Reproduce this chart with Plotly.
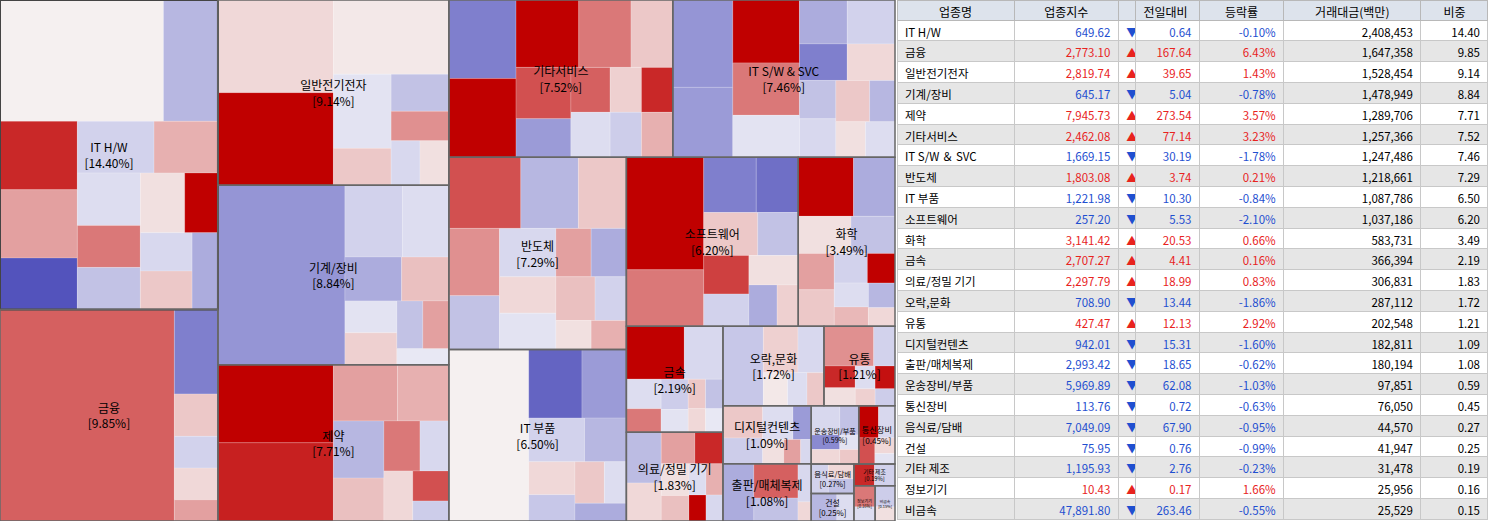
import plotly.graph_objects as go

sector_index = ["649.62","2,773.10","2,819.74","645.17","7,945.73","2,462.08","1,669.15","1,803.08","1,221.98","257.20","3,141.42","2,707.27","2,297.79","708.90","427.47","942.01","2,993.42","5,969.89","113.76","7,049.09","75.95","1,195.93","10.43","47,891.80"]
sector_diff = ["0.64","167.64","39.65","5.04","273.54","77.14","30.19","3.74","10.30","5.53","20.53","4.41","18.99","13.44","12.13","15.31","18.65","62.08","0.72","67.90","0.76","2.76","0.17","263.46"]
sector_rate = [-0.10,6.43,1.43,-0.78,3.57,3.23,-1.78,0.21,-0.84,-2.10,0.66,0.16,0.83,-1.86,2.92,-1.60,-0.62,-1.03,-0.63,-0.95,-0.99,-0.23,1.66,-0.55]
sector_amount = ["2,408,453","1,647,358","1,528,454","1,478,949","1,289,706","1,257,366","1,247,486","1,218,661","1,087,786","1,037,186","583,731","366,394","306,831","287,112","202,548","182,811","180,194","97,851","76,050","44,570","41,947","31,478","25,956","25,529"]
sector_weight = [14.40,9.85,9.14,8.84,7.71,7.52,7.46,7.29,6.50,6.20,3.49,2.19,1.83,1.72,1.21,1.09,1.08,0.59,0.45,0.27,0.25,0.19,0.16,0.15]
table_names = ["IT H/W","금융","일반전기전자","기계/장비","제약","기타서비스","IT S/W ＆ SVC","반도체","IT 부품","소프트웨어","화학","금속","의료/정밀 기기","오락,문화","유통","디지털컨텐츠","출판/매체복제","운송장비/부품","통신장비","음식료/담배","건설","기타 제조","정보기기","비금속"]
treemap_labels = ["IT H/W","금융","일반전기전자","기계/장비","제약","기타서비스","IT S/W & SVC","반도체","IT 부품","소프트웨어","화학","금속","의료/정밀 기기","오락,문화","유통","디지털컨텐츠","출판/매체복제","운송장비/부품","통신장비","음식료/담배","건설","기타 제조","정보기기","비금속"]

child_weights = [
 [30,8,10,8,6,6,5,5,4,4,4,3,3,3,3],
 [80,8,4,3,3,2],
 [25,25,20,10,5,5,4,3,3],
 [55,10,8,6,5,4,4,3,3,2],
 [25,25,10,8,8,6,5,4,4,3,2],
 [15,15,12,10,8,8,6,5,5,4,4,4,4],
 [15,12,12,10,8,6,6,5,5,4,4,4,3,3,3],
 [15,12,10,10,8,8,6,6,5,5,5,4,3,3],
 [45,12,10,8,6,5,4,4,3,3],
 [30,15,10,8,8,6,6,5,5,4,3],
 [20,15,12,10,8,8,6,5,5,4,4,3],
 [30,20,10,8,8,6,5,5,4,4],
 [20,15,12,10,10,8,6,6,5,5],
 [40,20,15,10,8,7],
 [35,15,12,10,8,8,6,6],
 [25,20,20,12,10,8,5],
 [35,30,20,10,5],
 [30,20,15,15,10,10],
 [30,25,20,15,10],
 [40,30,30],
 [60,40],
 [50,50],
 [60,40],
 [60,40],
]
child_changes = [
 [0,2.5,-1.0,1.0,-2.8,-0.5,0.8,-0.3,1.5,-0.8,0.2,3.5,-0.4,0.5,-1.2],
 [1.8,-2.0,0.5,-0.5,0.3,1.0],
 [0.3,3.0,0.1,-0.2,0.5,-0.8,1.2,-0.4,0.2],
 [-1.6,-0.5,-0.3,-1.2,0.6,-0.2,0.4,-0.8,1.0,-0.1],
 [3.0,2.6,1.0,0.8,-1.0,0.6,1.5,-0.4,0.3,2.0,-0.6],
 [-2.0,3.0,3.0,1.5,0.5,2.0,-1.5,1.8,-0.3,0.4,2.5,-0.6,0.8],
 [-1.6,-1.5,3.0,1.5,-0.2,-1.2,-0.5,-2.0,0.3,-0.8,-0.4,0.5,-1.0,0.2,-0.3],
 [2.0,-1.0,0.5,1.2,-0.8,-0.4,0.3,-0.2,1.0,-1.2,0.6,-0.5,0.2,0.8],
 [0,-2.5,-1.5,-0.5,-1.0,0.3,-0.7,0.5,-0.3,-1.2],
 [3.0,1.5,-2.0,-2.3,0.5,-0.8,2.2,-0.5,0.2,-1.2,0.4],
 [3.0,-1.2,0.2,-0.8,1.0,0.5,-0.5,3.0,-0.3,0.7,-1.0,0.3],
 [3.0,-0.4,-0.3,1.5,-0.6,-0.2,0.5,-0.8,0.3,-0.1],
 [-0.9,0.3,1.0,2.5,0.2,0.6,-0.3,0.8,3.0,-0.4],
 [-0.7,0.4,-0.4,0.1,-0.3,0.5],
 [1.2,-0.5,2.5,0.2,-0.3,2.8,0.4,-0.6],
 [0.5,-0.6,-0.3,-1.5,0.2,1.0,-0.4],
 [-1.2,1.8,-0.8,-0.4,0.3],
 [-0.4,-0.8,-1.8,0.3,-0.2,0.5],
 [3.0,-0.4,2.0,0.3,-0.2],
 [-0.5,0.3,-0.8],
 [-1.0,-0.3],
 [2.5,-0.5],
 [1.5,-0.3],
 [-0.6,0.2],
]

def mix(a, b, t):
    return "rgb(%d,%d,%d)" % tuple(round(a[i] + (b[i] - a[i]) * t) for i in range(3))

def chg_color(c):
    t = max(-1.0, min(1.0, c / 3.0))
    if t >= 0:
        return mix((245, 240, 240), (192, 0, 0), t)
    return mix((238, 238, 246), (72, 72, 184), -t)

ids, labels, parents, values, colors = [], [], [], [], []
for si, s in enumerate(treemap_labels):
    tot = sum(child_weights[si])
    for ci, (w, c) in enumerate(zip(child_weights[si], child_changes[si])):
        ids.append(f"{s}/{ci}"); labels.append(""); parents.append(s)
        values.append(sector_weight[si] * w / tot); colors.append(chg_color(c))
for si, s in enumerate(treemap_labels):
    ids.append(s); labels.append(s); parents.append(""); values.append(sector_weight[si]); colors.append("rgba(0,0,0,0)")

fig = go.Figure()
dom = dict(x=[0, 895/1488], y=[0, 1])
fig.add_trace(go.Treemap(
    ids=ids, labels=labels, parents=parents, values=values, branchvalues="total",
    marker=dict(colors=colors, line=dict(color="rgba(255,255,255,0.35)", width=0.5), pad=dict(t=0, l=0, r=0, b=0)),
    tiling=dict(packing="squarify", pad=0), textinfo="none", pathbar=dict(visible=False),
    domain=dom, hoverinfo="skip", sort=True))
fig.add_trace(go.Treemap(
    labels=treemap_labels, parents=[""] * len(treemap_labels), values=sector_weight,
    customdata=[f"{w:.2f}" for w in sector_weight],
    texttemplate="%{label}<br>[%{customdata}%]", textposition="middle center",
    textfont=dict(family="Noto Sans CJK KR", size=12, color="black"),
    marker=dict(colors=["rgba(0,0,0,0)"] * len(treemap_labels), line=dict(color="#666", width=1.5), pad=dict(t=0, l=0, r=0, b=0)),
    tiling=dict(packing="squarify", pad=0), pathbar=dict(visible=False),
    domain=dom, hoverinfo="skip", sort=True))

def rc(r):
    return "#e8231e" if r > 0 else "#1f4fd0"

n = len(table_names)
tc = [rc(r) for r in sector_rate]
fills = ["white" if i % 2 == 0 else "#e6e6e6" for i in range(n)]
fig.add_trace(go.Table(
    domain=dict(x=[897/1488, 1], y=[0, 1]),
    columnwidth=[117, 104, 17, 64, 84, 137, 67],
    header=dict(values=["업종명", "업종지수", "", "전일대비", "등락률", "거래대금(백만)", "비중"],
                fill_color="#dde3ec", line_color="#b8b8b8", height=20,
                align=["center", "center", "center", "left", "center", "center", "center"],
                font=dict(family="Noto Sans CJK KR", size=12, color="black")),
    cells=dict(values=[table_names, sector_index, ["▲" if r > 0 else "▼" for r in sector_rate],
                       sector_diff, [f"{r:.2f}%" for r in sector_rate], sector_amount,
                       [f"{w:.2f}" for w in sector_weight]],
               fill_color=[fills] * 7, line_color="#c8c8c8", height=20.8,
               align=["left", "right", "left", "right", "right", "right", "right"],
               font=dict(family="Noto Sans CJK KR", size=11.5,
                         color=[["black"] * n, tc, tc, tc, tc, ["black"] * n, ["black"] * n]))))

fig.update_layout(width=1488, height=521, margin=dict(l=0, r=0, t=0, b=0),
                  paper_bgcolor="white", showlegend=False)
fig.write_html("out.html", config={"displayModeBar": False},
               post_script="document.body.style.margin='0';document.body.style.overflow='hidden';")
